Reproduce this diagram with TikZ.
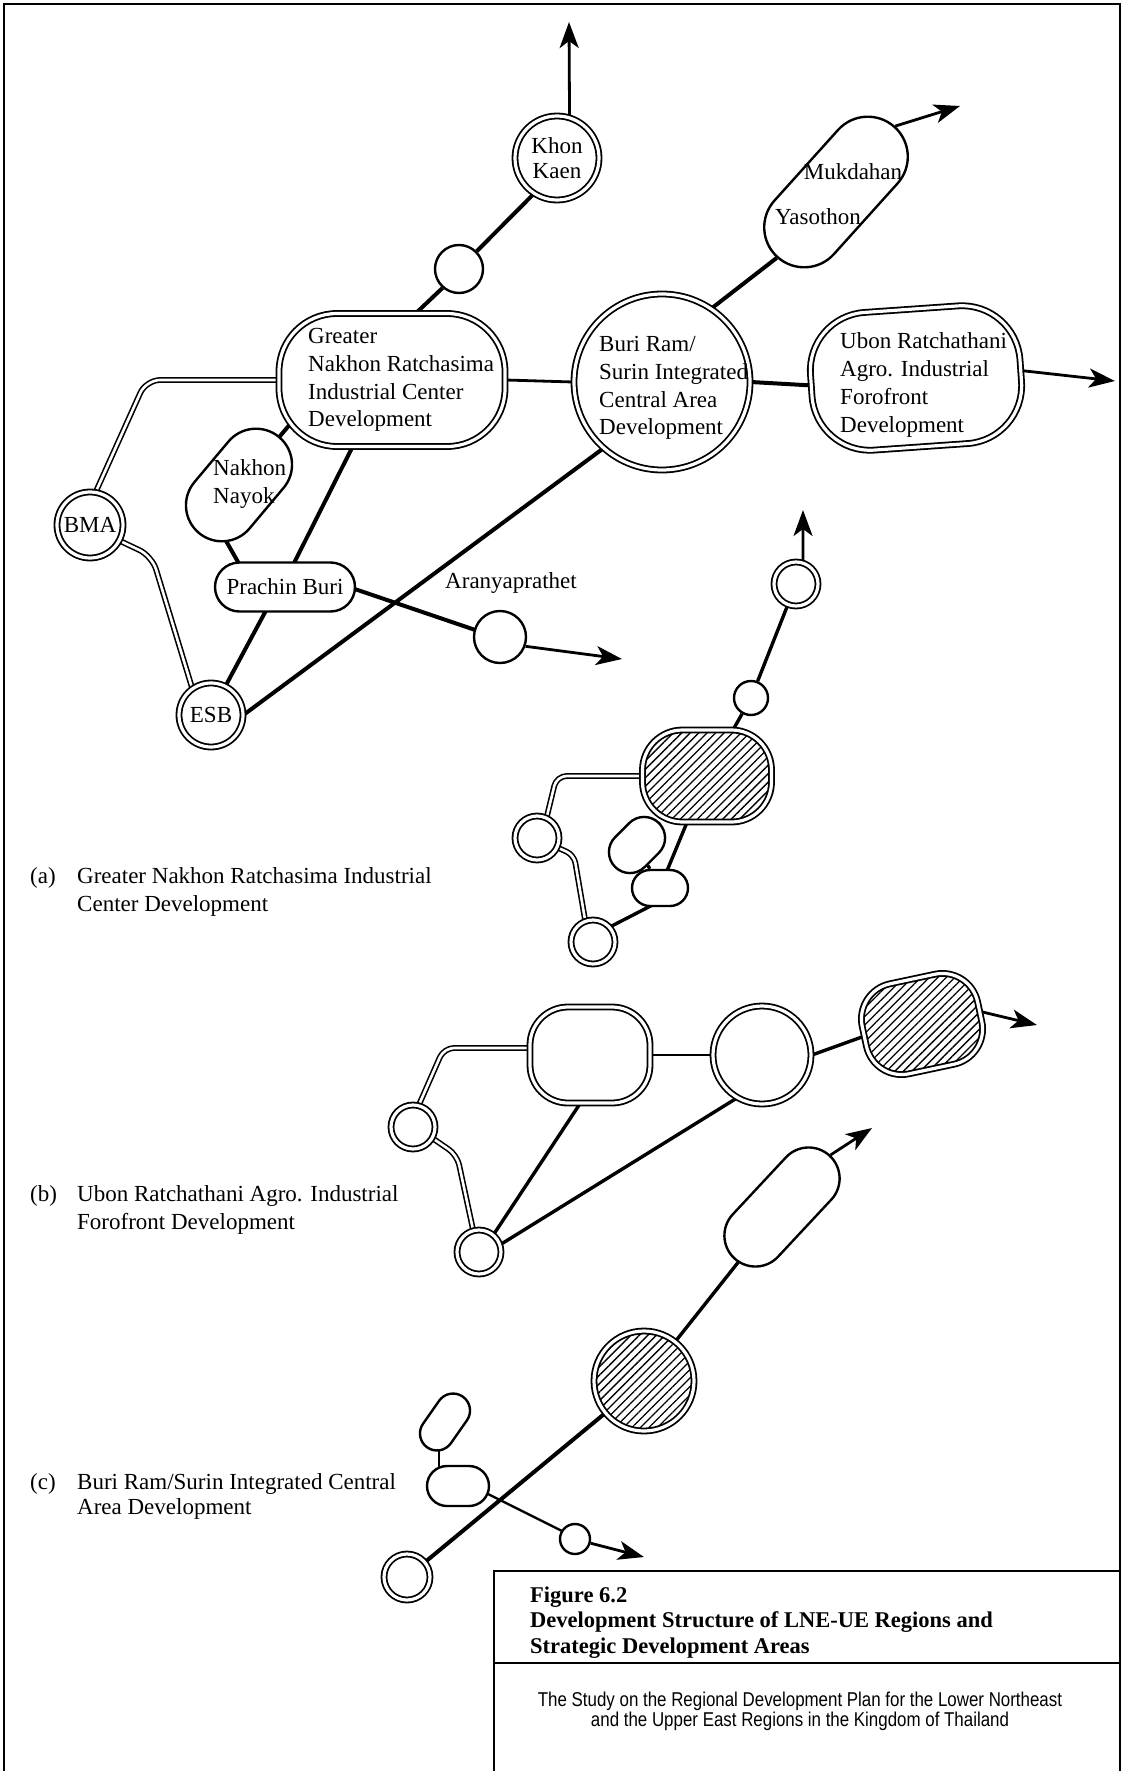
\documentclass[tikz,border=0pt]{standalone}
\usepackage{fontspec}
\usepackage{graphicx}
\setmainfont{Liberation Serif}
\newfontfamily\subfont{Liberation Sans}
\usetikzlibrary{shapes.misc,arrows.meta,patterns.meta,backgrounds,calc}
\newcommand\mainsz{\fontsize{23}{27.7}\selectfont}
\begin{document}
\begin{tikzpicture}[x=1pt,y=-1pt,
  every node/.style={font=\mainsz},
  dcirc/.style={circle,draw,line width=1.8pt,double=white,double distance=3.2pt,fill=white,inner sep=0pt},
  scirc/.style={circle,draw,line width=2.4pt,fill=white,inner sep=0pt},
  drect/.style={rectangle,draw,line width=1.8pt,double=white,double distance=3.2pt,fill=white,inner sep=0pt},
  stad/.style={rounded rectangle,draw,line width=2.4pt,fill=white,inner sep=0pt},
  hatch/.style={preaction={fill=white},pattern={Lines[angle=45,distance=6pt,line width=1.3pt]}},
  lnk/.style={line width=4pt},
  mlnk/.style={line width=3.4pt},
  tlnk/.style={line width=2.4pt},
  dlnk/.style={line width=1.6pt,double=white,double distance=2.6pt},
  arr/.style={line width=2.8pt,-{Stealth[length=26pt,width=19pt,inset=7pt]}},
  txt/.style={inner sep=0pt,align=left}]
\useasboundingbox (0,0) rectangle (1123,1771);
% frame
\draw[line width=2.5pt] (4,1771) -- (4,4) -- (1120,4) -- (1120,1771);
\draw[line width=2.2pt] (494,1771) -- (494,1571) -- (1120,1571);
\draw[line width=2.2pt] (494,1663) -- (1120,1663);

% ===== (a) main diagram =====
\node[dcirc,minimum size=84pt,align=center,font=\fontsize{23}{25}\selectfont] (KK) at (557,158) {Khon\\Kaen};
\node[scirc,minimum size=48pt] (s1) at (459,269) {};
\node[drect,rounded corners=58pt,minimum width=226pt,minimum height=133pt] (GNR) at (392,380) {};
\node[txt,anchor=west] (GNRt) at (308,380) {Greater\\Nakhon Ratchasima\\Industrial Center\\Development};
\node[dcirc,minimum size=176pt] (BS) at (662,382) {};
\node[txt,anchor=west] (BSt) at (599,388) {Buri Ram/\\Surin Integrated\\Central Area\\Development};
\node[stad,minimum width=175pt,minimum height=80pt,rotate=48] (MY) at (836,192) {};
\node[inner sep=0pt] (MYm) at (853,172) {Mukdahan};
\node[inner sep=0pt] (MYy) at (818,217) {Yasothon};
\node[drect,rounded corners=58pt,minimum width=210pt,minimum height=138pt,rotate=4] (UR) at (916,378) {};
\node[txt,anchor=west] (URt) at (840,385) {Ubon Ratchathani\\Agro. Industrial\\Forofront\\Development};
\node[stad,minimum width=125pt,minimum height=72pt,rotate=50] (NN) at (239,485) {};
\node[txt,anchor=west,font=\fontsize{23}{28}\selectfont] (NNt) at (213,484) {Nakhon\\Nayok};
\node[dcirc,minimum size=66pt] (BMA) at (90,525) {BMA};
\node[stad,minimum width=140pt,minimum height=49pt] (PB) at (285,587) {Prachin Buri};
\node[dcirc,minimum size=64pt] (ESB) at (211,715) {ESB};
\node[scirc,minimum size=52pt] (Ar) at (500,637) {};
\node[inner sep=0pt] (Art) at (511,583) {Aranyaprathet};
\coordinate (KKT) at (569,22);
\coordinate (MYT) at (960,106);
\coordinate (URT) at (1115,381);
\coordinate (ArT) at (622,659);

% ===== (a) mini =====
\node[dcirc,minimum size=44pt] (mKK) at (796,584) {};
\node[scirc,minimum size=34pt] (ms) at (751,698) {};
\node[drect,hatch,rounded corners=40pt,minimum width=129pt,minimum height=92pt] (mG) at (707,776) {};
\node[dcirc,minimum size=44pt] (mB) at (537,838) {};
\node[stad,minimum width=62pt,minimum height=42pt,rotate=45] (mN) at (637,845) {};
\node[stad,minimum width=56pt,minimum height=36pt] (mP) at (660,888) {};
\node[dcirc,minimum size=44pt] (mE) at (593,942) {};
\coordinate (mKKT) at (803,510);

% ===== (b) mini =====
\node[dcirc,minimum size=44pt] (bB) at (413,1127) {};
\node[drect,rounded corners=38pt,minimum width=120pt,minimum height=96pt] (bG) at (590,1055) {};
\node[dcirc,minimum size=98pt] (bS) at (762,1055) {};
\node[drect,hatch,rounded corners=36pt,minimum width=118pt,minimum height=92pt,rotate=12] (bU) at (922,1024) {};
\node[dcirc,minimum size=44pt] (bE) at (479,1252) {};
\coordinate (bUT) at (1037,1025);

% ===== (c) mini =====
\node[stad,minimum width=140pt,minimum height=62pt,rotate=47] (cY) at (782,1207) {};
\node[dcirc,hatch,minimum size=100pt] (cS) at (644,1381) {};
\node[dcirc,minimum size=46pt] (cE) at (407,1577) {};
\node[stad,minimum width=62pt,minimum height=34pt,rotate=55] (cN) at (445,1422) {};
\node[stad,minimum width=62pt,minimum height=40pt] (cP) at (458,1486) {};
\node[scirc,minimum size=30pt] (cA) at (575,1539) {};
\coordinate (cYT) at (872,1128);
\coordinate (cAT) at (644,1557);

% ===== links =====
\begin{scope}[on background layer]
  % (a)
  \draw[lnk] (KK.237) -- (s1.45);
  \draw[lnk] (s1.229) -- (GNR.70);
  \draw[line width=2.8pt] (GNR.east) -- (BS.west);
  \draw[lnk] (BS.56) -- (MY.west);
  \draw[lnk] (BS.east) -- (UR.west);
  \draw[dlnk,rounded corners=14pt] (BMA.80) -- ($(GNR.west)+(-132,0)$) -- (GNR.west);
  \draw[dlnk,rounded corners=14pt] (BMA.-28) -- ($(BMA.center)+(62,31)$) -- (ESB.125);
  \draw[lnk] (NN.center) -- ($(NN.center)!1.45!(NN.east)$);
  \draw[lnk] ($(NN.center)+(-26,33)$) -- ($(PB.center)+(-39,-11)$);
  \draw[lnk] ($(GNR.center)+(-32,52)$) -- ($(PB.center)+(4,-14)$);
  \draw[lnk] ($(PB.center)+(-15,16)$) -- ($(ESB.center)+(7,-15)$);
  \draw[lnk] ($(ESB.center)+(0,24)$) -- ($(BS.center)+(-42,54)$);
  \draw[lnk] ($(PB.center)+(55,-3)$) -- ($(Ar.center)+(-10,-2)$);
  \draw[arr] (KK.73) -- (KKT);
  \draw[arr] (MY.east) -- (MYT);
  \draw[arr] (UR.east) -- (URT);
  \draw[arr] (Ar.-20) -- (ArT);
  % (a) mini
  \draw[mlnk] (mKK) -- (ms);
  \draw[mlnk] (ms) -- (mG);
  \draw[dlnk,rounded corners=10pt] (mB.65) -- ($(mB.65|-mG.west)+(10,0)$) -- (mG.west);
  \draw[dlnk,rounded corners=8pt] (mB.-25) -- ($(mB.center)+(37,17)$) -- (mE.110);
  \draw[mlnk] (mG) -- (mN);
  \draw[mlnk] (mN) -- (mP);
  \draw[mlnk] ($(mG.center)+(-12,27)$) -- ($(mP.center)+(4,-10)$);
  \draw[mlnk] ($(mP.center)+(10,8)$) -- ($(mE.center)+(7,-10)$);
  \draw[arr] (mKK.72) -- (mKKT);
  % (b) mini
  \draw[dlnk,rounded corners=10pt] (bB.75) -- ($(bB.75|-bG.west)+(25,-7)$) -- ($(bG.west)+(0,-7)$);
  \draw[dlnk,rounded corners=10pt] (bB.-30) -- ($(bB.center)+(44,28)$) -- (bE.105);
  \draw[mlnk] ($(bE.center)+(9,-9)$) -- ($(bG.center)+(1,32)$);
  \draw[mlnk] ($(bE.center)+(11,-1)$) -- ($(bS.center)+(-17,38)$);
  \draw[line width=2.8pt] (bG.east) -- (bS.west);
  \draw[mlnk] (bS.east) -- (bU.west);
  \draw[arr] (bU.east) -- (bUT);
  % (c) mini
  \draw[mlnk] (cY) -- (cS);
  \draw[lnk] (cS) -- (cE);
  \draw[tlnk] ($(cN.center)+(-6,10)$) -- ($(cP.center)+(-19,-5)$);
  \draw[tlnk] ($(cP.center)+(12,-1)$) -- ($(cA.center)+(-5,-4)$);
  \draw[arr] (cY.east) -- (cYT);
  \draw[arr] (cA.-15) -- (cAT);
\end{scope}

% ===== captions =====
\node[inner sep=0pt,anchor=base west] (capa) at (30,883) {(a)};
\node[inner sep=0pt,anchor=base west] (capa1) at (77,883) {Greater Nakhon Ratchasima Industrial};
\node[inner sep=0pt,anchor=base west] (capa2) at (77,911) {Center Development};
\node[inner sep=0pt,anchor=base west] (capb) at (30,1201) {(b)};
\node[inner sep=0pt,anchor=base west] (capb1) at (77,1201) {Ubon Ratchathani Agro. Industrial};
\node[inner sep=0pt,anchor=base west] (capb2) at (77,1229) {Forofront Development};
\node[inner sep=0pt,anchor=base west] (capc) at (30,1489) {(c)};
\node[inner sep=0pt,anchor=base west] (capc1) at (77,1489) {Buri Ram/Surin Integrated Central};
\node[inner sep=0pt,anchor=base west] (capc2) at (77,1514) {Area Development};

% ===== title block =====
\node[inner sep=0pt,anchor=base west,font=\bfseries\fontsize{22.5}{26}\selectfont] (fig) at (530,1602) {Figure 6.2};
\node[inner sep=0pt,anchor=base west,font=\bfseries\fontsize{22.5}{26}\selectfont] (tit1) at (530,1627) {Development Structure of LNE-UE Regions and};
\node[inner sep=0pt,anchor=base west,font=\bfseries\fontsize{22.5}{26}\selectfont] (tit2) at (530,1653) {Strategic Development Areas};
\node[inner sep=0pt,anchor=base,font=\subfont\fontsize{20}{20}\selectfont] (sub1) at (800,1706) {\scalebox{0.845}[1]{The Study on the Regional Development Plan for the Lower Northeast}};
\node[inner sep=0pt,anchor=base,font=\subfont\fontsize{20}{20}\selectfont] (sub2) at (800,1726) {\scalebox{0.845}[1]{and the Upper East Regions in the Kingdom of Thailand}};
\end{tikzpicture}
\end{document}
